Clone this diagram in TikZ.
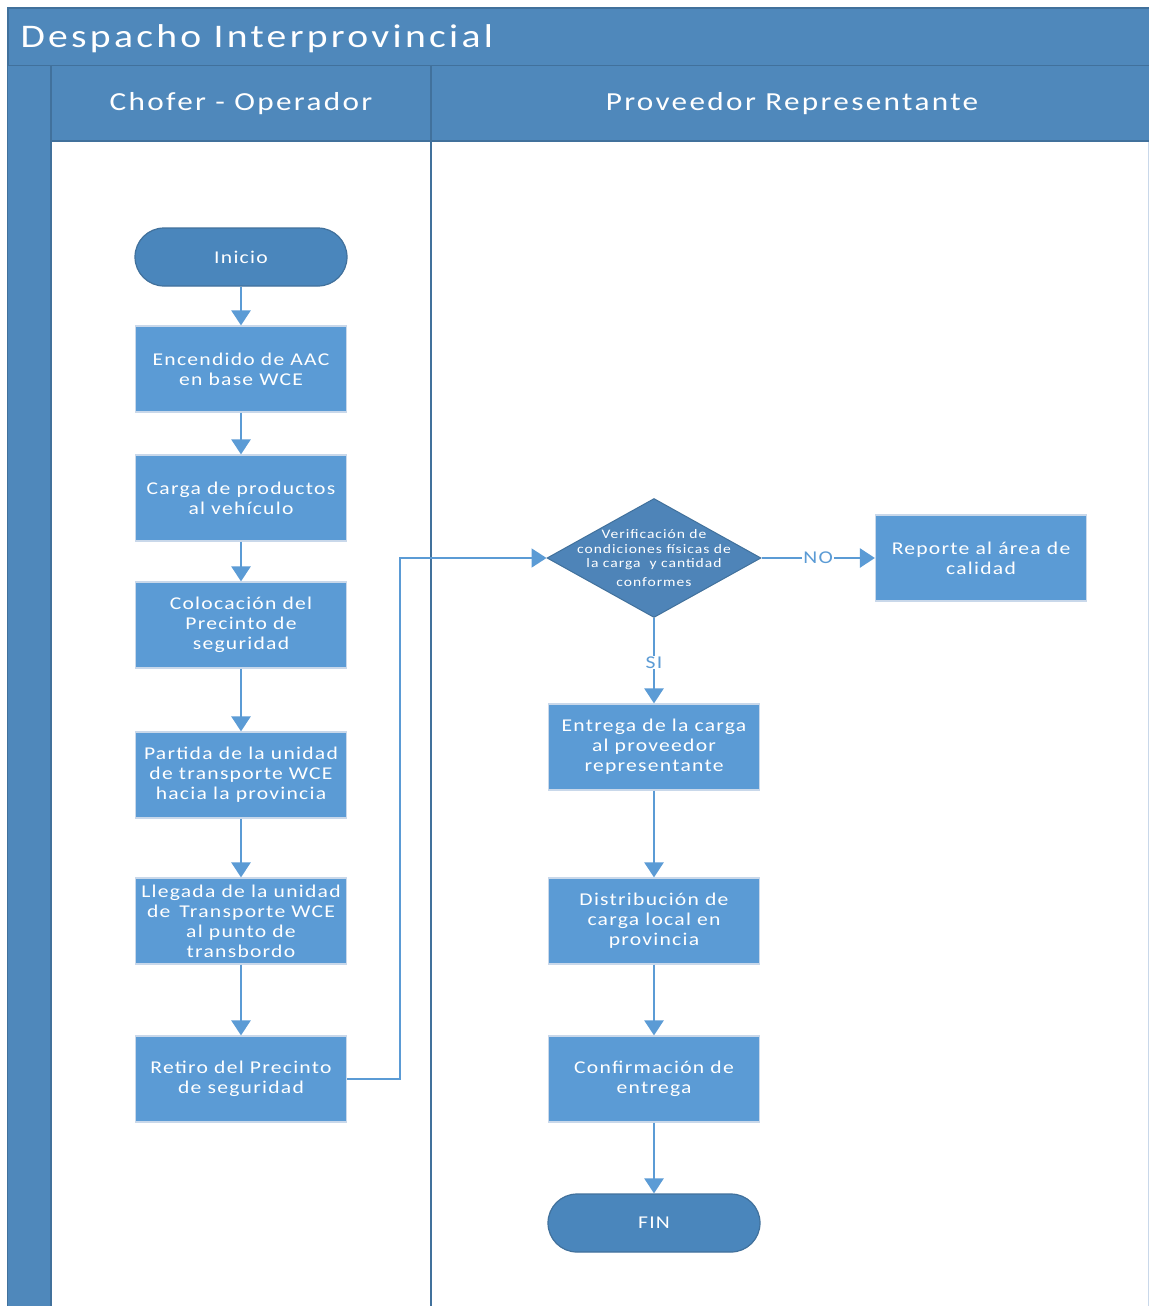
\documentclass[tikz,border=0pt]{standalone}
\usepackage{fontspec}
\usetikzlibrary{arrows.meta,shapes.geometric,positioning}
\newfontfamily\titlefont[FakeStretch=1.2,LetterSpace=10]{Carlito}
\newfontfamily\lanefont[FakeStretch=1.2,LetterSpace=9]{Carlito}
\newfontfamily\cfont[FakeStretch=1.2,LetterSpace=7]{Carlito}
\newfontfamily\dfont[FakeStretch=1.2,LetterSpace=7.5]{Carlito}
\definecolor{hdr}{HTML}{4F88BB}
\definecolor{hdrline}{HTML}{41719C}
\definecolor{boxblue}{HTML}{5B9BD5}
\definecolor{termblue}{HTML}{4A86BC}
\definecolor{diablue}{HTML}{4E84B8}
\definecolor{edgeblue}{HTML}{5B9BD5}
\definecolor{glow}{HTML}{C9D8EA}
\tikzset{
  proc/.style={rectangle, fill=boxblue, draw=glow, line width=1.2pt,
    minimum width=211pt, minimum height=86pt, text=white, align=center,
    inner sep=2pt, font=\cfont\fontsize{18}{20}\selectfont},
  term/.style={rectangle, rounded corners=29pt, fill=termblue, draw=hdrline, line width=1.2pt,
    minimum width=212pt, minimum height=58pt, text=white, align=center,
    font=\cfont\fontsize{18}{20}\selectfont},
  decis/.style={diamond, fill=diablue, draw=hdrline, line width=1pt, aspect=1.8,
    minimum width=214pt, minimum height=119pt, inner sep=0pt, text=white},
  flow/.style={draw=edgeblue, line width=2.4pt, -{Triangle[width=19pt,length=15pt]}},
  lbl/.style={text=edgeblue, fill=white, inner sep=1pt, font=\cfont\fontsize{18}{20}\selectfont},
  hdrtxt/.style={text=white, font=\lanefont\fontsize{26}{30}\selectfont},
}
\begin{document}
\begin{tikzpicture}[x=1pt,y=-1pt]
\useasboundingbox (0,0) rectangle (1149,1306);
\fill[white] (0,0) rectangle (1149,1306);
% pool body
\fill[white] (51,141) rectangle (1148,1306);
\draw[glow, line width=1pt] (1148,141) -- (1148,1306);
% title bar
\fill[hdr] (8,8) rectangle (1149,66);
\draw[hdrline, line width=1.2pt] (1149,8) -- (8,8) -- (8,1306);
\draw[hdrline, line width=1.5pt] (8,66) -- (1149,66);
\node[text=white, anchor=west, font=\titlefont\fontsize{33}{38}\selectfont] (title) at (17,39) {Despacho Interprovincial};
% left strip
\fill[hdr] (8,66) rectangle (51,1306);
% lane header row
\fill[hdr] (51,66) rectangle (1149,141);
\draw[hdrline, line width=1.5pt] (51,141) -- (1149,141);
\draw[hdrline, line width=1.5pt] (51,66) -- (51,1306);
\draw[hdrline, line width=2pt] (431,66) -- (431,1306);
\node[hdrtxt] (lane1) at (241,104) {Chofer - Operador};
\node[hdrtxt] (lane2) at (792,104) {Proveedor Representante};
% left column
\node[term] (inicio) at (241,257) {Inicio};
\node[proc] (enc) at (241,369) {Encendido de AAC\\en base WCE};
\node[proc] (carga) at (241,498) {Carga de productos\\al vehículo};
\node[proc] (col) at (241,625) {Colocación del\\Precinto de\\seguridad};
\node[proc] (part) at (241,775) {Partida de la unidad\\de transporte WCE\\hacia la provincia};
\node[proc] (lleg) at (241,921) {Llegada de la unidad\\de \,Transporte WCE\\al punto de\\transbordo};
\node[proc] (ret) at (241,1079) {Retiro del Precinto\\de seguridad};
% right column
\node[decis] (dec) at (654,558) {};
\node[text=white, align=center, font=\dfont\fontsize{13}{14.5}\selectfont] (dectxt) at (654,558)
  {Verificación de\\condiciones físicas de\\la carga \ y cantidad\\[4pt]conformes};
\node[proc] (rep) at (981,558) {Reporte al área de\\calidad};
\node[proc] (ent) at (654,747) {Entrega de la carga\\al proveedor\\representante};
\node[proc] (dist) at (654,921) {Distribución de\\carga local en\\provincia};
\node[proc] (conf) at (654,1079) {Confirmación de\\entrega};
\node[term] (fin) at (654,1223) {FIN};
% connectors
\draw[flow] (inicio) -- (enc);
\draw[flow] (enc) -- (carga);
\draw[flow] (carga) -- (col);
\draw[flow] (col) -- (part);
\draw[flow] (part) -- (lleg);
\draw[flow] (lleg) -- (ret);
\draw[flow, line width=1.8pt] (ret.east) -- (400,1079) -- (400,558) -- (dec.west);
\draw[flow] (dec.east) -- node[lbl, pos=0.5] {NO} (rep.west);
\draw[flow] (dec.south) -- node[lbl, pos=0.52] {SI} (ent.north);
\draw[flow] (ent) -- (dist);
\draw[flow] (dist) -- (conf);
\draw[flow] (conf) -- (fin);
\end{tikzpicture}
\end{document}
